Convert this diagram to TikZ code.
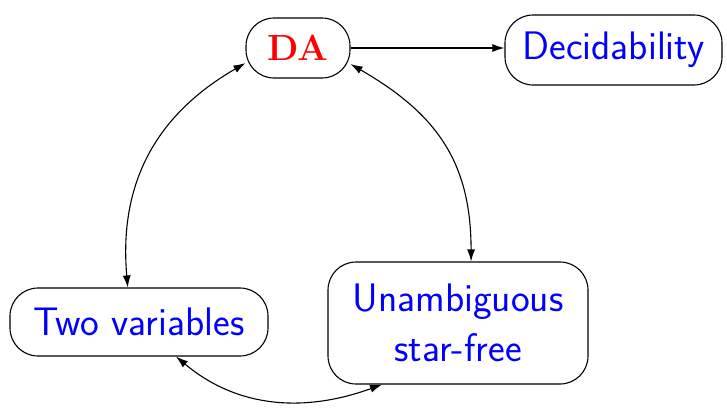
\documentclass[tikz,border=0pt]{standalone}
\usetikzlibrary{positioning, arrows.meta}

\begin{document}
\begin{tikzpicture}[x=0.5pt, y=-0.5pt, font=\sffamily\fontsize{19.9}{25}\selectfont, >={Latex[length=6pt,width=4pt]}, line width=0.55pt]

    \tikzstyle{block} = [draw, rectangle, rounded corners=14pt, text=blue, align=center, inner sep=0pt]

    \useasboundingbox (0,0) rectangle (727,408);

    % DA
    \node [block, minimum width=52pt, minimum height=30pt, text=red, font=\rmfamily\bfseries\fontsize{18.2}{22}\selectfont] (da) at (298,48) {DA};

    % Decidability
    \node [block, minimum width=108.5pt, minimum height=35pt] (dec) at (613.5,50) {Decidability};

    % Two variables and unambiguous star-free
    \node [block, minimum width=129pt, minimum height=34pt] (two) at (139,322) {Two variables};
    \node [block, minimum width=130pt, minimum height=61pt] (una) at (458,323) {Unambiguous\\star-free};

    % Connect them
    \draw[->] (da) -- (da -| dec.west);

    \draw
        (two.108) edge[<->, out=95, in=210, looseness=1.05] (da.196)
        (da.-17) edge[<->, out=-30, in=90, looseness=1.1] (una.78)
        (two.-43) edge[<->, out=-40, in=200] (una.219);

\end{tikzpicture}
\end{document}
